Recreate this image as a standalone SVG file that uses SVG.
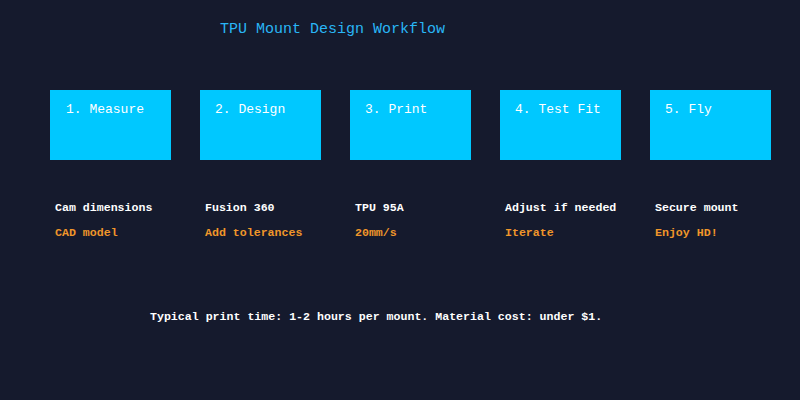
<svg xmlns="http://www.w3.org/2000/svg" width="800" height="400" viewBox="0 0 800 400">
<style>
.box{fill:#00c8ff}
.bt{fill:#ffffff;font-family:"Liberation Mono","DejaVu Sans Mono",monospace;font-size:13px}
.l1{fill:#ffffff;font-family:"Liberation Mono","DejaVu Sans Mono",monospace;font-size:11.6px;font-weight:bold}
.l2{fill:#f0962a;font-family:"Liberation Mono","DejaVu Sans Mono",monospace;font-size:11.6px;font-weight:bold}
</style>
<rect width="800" height="400" fill="#151a2d"/>
<text x="220" y="33" fill="#29b6f6" font-family="Liberation Mono, DejaVu Sans Mono, monospace" font-size="15">TPU Mount Design Workflow</text>
<g id="connectors"></g>
<g id="n1"><rect class="box" x="50" y="90" width="121" height="70"/><text class="bt" x="66" y="113">1. Measure</text><text class="l1" x="55" y="211">Cam dimensions</text><text class="l2" x="55" y="236">CAD model</text></g>
<g id="n2"><rect class="box" x="200" y="90" width="121" height="70"/><text class="bt" x="215" y="113">2. Design</text><text class="l1" x="205" y="211">Fusion 360</text><text class="l2" x="205" y="236">Add tolerances</text></g>
<g id="n3"><rect class="box" x="350" y="90" width="121" height="70"/><text class="bt" x="365" y="113">3. Print</text><text class="l1" x="355" y="211">TPU 95A</text><text class="l2" x="355" y="236">20mm/s</text></g>
<g id="n4"><rect class="box" x="500" y="90" width="121" height="70"/><text class="bt" x="515" y="113">4. Test Fit</text><text class="l1" x="505" y="211">Adjust if needed</text><text class="l2" x="505" y="236">Iterate</text></g>
<g id="n5"><rect class="box" x="650" y="90" width="121" height="70"/><text class="bt" x="665" y="113">5. Fly</text><text class="l1" x="655" y="211">Secure mount</text><text class="l2" x="655" y="236">Enjoy HD!</text></g>
<text class="l1" x="150" y="320">Typical print time: 1-2 hours per mount. Material cost: under $1.</text>
</svg>
